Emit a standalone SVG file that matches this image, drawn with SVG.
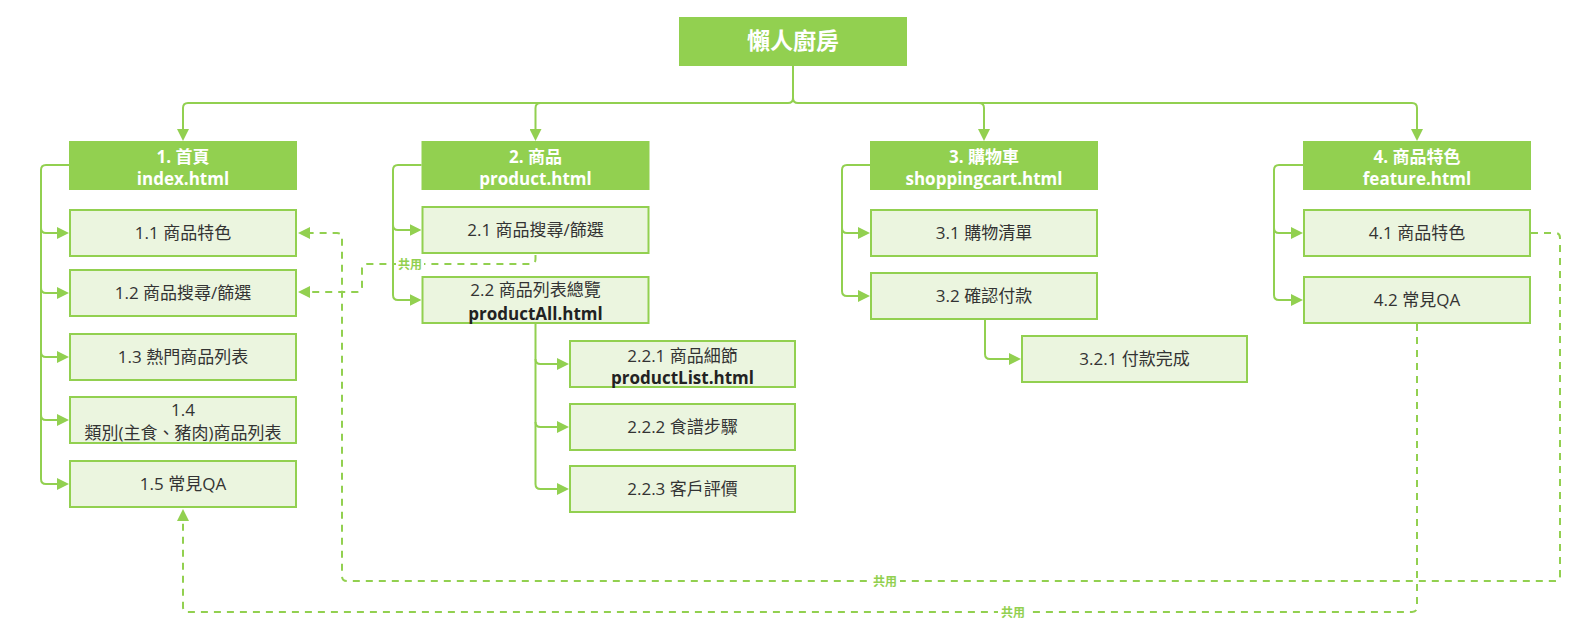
<svg xmlns="http://www.w3.org/2000/svg" width="1586" height="630" viewBox="0 0 1586 630">
<defs>
<style>
.hdr{fill:#92D050;}
.box{fill:#EBF5DF;stroke:#92D050;stroke-width:2;}
.ht{font-family:"Open Sans","Noto Sans CJK TC",sans-serif;font-weight:bold;font-size:17px;fill:#fff;text-anchor:middle;}
.rt{font-family:"Open Sans","Noto Sans CJK TC",sans-serif;font-weight:bold;font-size:23px;fill:#fff;text-anchor:middle;}
.ct{font-family:"Open Sans","Noto Sans CJK TC",sans-serif;font-size:17px;fill:#333;text-anchor:middle;}
.cb{font-family:"Open Sans","Noto Sans CJK TC",sans-serif;font-size:17px;font-weight:bold;fill:#222;text-anchor:middle;}
.ln{fill:none;stroke:#92D050;stroke-width:2;}
.dl{fill:none;stroke:#92D050;stroke-width:2;stroke-dasharray:7 6;}
.lb{font-family:"Open Sans","Noto Sans CJK TC",sans-serif;font-size:12px;font-weight:bold;fill:#92D050;text-anchor:middle;}
</style>
<marker id="ah" viewBox="0 0 12 12" refX="2" refY="6" markerWidth="12" markerHeight="12" markerUnits="userSpaceOnUse" orient="auto">
<path d="M0,0 L12,6 L0,12 z" fill="#92D050"/>
</marker>
</defs>
<rect width="1586" height="630" fill="#fff"/>

<g id="connectors">
<path class="ln" d="M793,66 V98 Q793,103 788,103 H188 Q183,103 183,108 V131" marker-end="url(#ah)"/>
<path class="ln" d="M793,98 Q793,103 798,103 H1412 Q1417,103 1417,108 V131" marker-end="url(#ah)"/>
<path class="ln" d="M540.5,103 Q535.5,103 535.5,108 V131" marker-end="url(#ah)"/>
<path class="ln" d="M979,103 Q984,103 984,108 V131" marker-end="url(#ah)"/>

<path class="ln" d="M69,165 H46 Q41,165 41,170 V228 Q41,233 46,233 H59" marker-end="url(#ah)"/>
<path class="ln" d="M41,228 V288 Q41,293 46,293 H59" marker-end="url(#ah)"/>
<path class="ln" d="M41,288 V352 Q41,357 46,357 H59" marker-end="url(#ah)"/>
<path class="ln" d="M41,352 V415 Q41,420 46,420 H59" marker-end="url(#ah)"/>
<path class="ln" d="M41,415 V479 Q41,484 46,484 H59" marker-end="url(#ah)"/>

<path class="ln" d="M421.5,165 H398 Q393,165 393,170 V225 Q393,230 398,230 H411.5" marker-end="url(#ah)"/>
<path class="ln" d="M393,225 V295 Q393,300 398,300 H411.5" marker-end="url(#ah)"/>

<path class="ln" d="M535.5,324 V359 Q535.5,364 540.5,364 H559" marker-end="url(#ah)"/>
<path class="ln" d="M535.5,359 V422 Q535.5,427 540.5,427 H559" marker-end="url(#ah)"/>
<path class="ln" d="M535.5,422 V484 Q535.5,489 540.5,489 H559" marker-end="url(#ah)"/>

<path class="ln" d="M870,165 H847 Q842,165 842,170 V228 Q842,233 847,233 H860" marker-end="url(#ah)"/>
<path class="ln" d="M842,228 V291 Q842,296 847,296 H860" marker-end="url(#ah)"/>
<path class="ln" d="M985,320 V354 Q985,359 990,359 H1011" marker-end="url(#ah)"/>

<path class="ln" d="M1303,165 H1279 Q1274,165 1274,170 V228 Q1274,233 1279,233 H1293" marker-end="url(#ah)"/>
<path class="ln" d="M1274,228 V295 Q1274,300 1279,300 H1293" marker-end="url(#ah)"/>

<path class="dl" d="M1531,233 H1555 Q1560,233 1560,238 V576 Q1560,581 1555,581 H347 Q342,581 342,576 V238 Q342,233 337,233 H308" marker-end="url(#ah)"/>
<path class="dl" d="M1417,324 V607 Q1417,612 1412,612 H188 Q183,612 183,607 V519" marker-end="url(#ah)"/>
<path class="dl" d="M535.5,255 V259 Q535.5,264 530.5,264 H367 Q362,264 362,269 V287 Q362,292 357,292 H308" marker-end="url(#ah)"/>

<rect x="396" y="257" width="28" height="14" fill="#fff"/>
<text class="lb" x="410" y="268.5">共用</text>
<rect x="870" y="574" width="30" height="14" fill="#fff"/>
<text class="lb" x="885" y="585.5">共用</text>
<rect x="998" y="605" width="30" height="14" fill="#fff"/>
<text class="lb" x="1013" y="616.5">共用</text>
</g>

<g id="root"><rect class="hdr" x="679" y="17" width="228" height="49"/><text class="rt" x="793" y="49">懶人廚房</text></g>

<g id="n1"><rect class="hdr" x="69" y="141" width="228" height="49"/><text class="ht" x="183" y="163">1. 首頁</text><text class="ht" x="183" y="185">index.html</text></g>
<g id="n1-1"><rect class="box" x="70" y="210" width="226" height="46"/><text class="ct" x="183" y="239">1.1 商品特色</text></g>
<g id="n1-2"><rect class="box" x="70" y="270" width="226" height="46"/><text class="ct" x="183" y="299">1.2 商品搜尋/篩選</text></g>
<g id="n1-3"><rect class="box" x="70" y="334" width="226" height="46"/><text class="ct" x="183" y="363">1.3 熱門商品列表</text></g>
<g id="n1-4"><rect class="box" x="70" y="397" width="226" height="46"/><text class="ct" x="183" y="416">1.4</text><text class="ct" x="183" y="439">類別(主食、豬肉)商品列表</text></g>
<g id="n1-5"><rect class="box" x="70" y="461" width="226" height="46"/><text class="ct" x="183" y="490">1.5 常見QA</text></g>

<g id="n2"><rect class="hdr" x="421.5" y="141" width="228" height="49"/><text class="ht" x="535.5" y="163">2. 商品</text><text class="ht" x="535.5" y="185">product.html</text></g>
<g id="n2-1"><rect class="box" x="422.5" y="207" width="226" height="46"/><text class="ct" x="535.5" y="236">2.1 商品搜尋/篩選</text></g>
<g id="n2-2"><rect class="box" x="422.5" y="277" width="226" height="46"/><text class="ct" x="535.5" y="296">2.2 商品列表總覽</text><text class="cb" x="535.5" y="320">productAll.html</text></g>
<g id="n2-2-1"><rect class="box" x="570" y="341" width="225" height="46"/><text class="ct" x="682.5" y="362">2.2.1 商品細節</text><text class="cb" x="682.5" y="384">productList.html</text></g>
<g id="n2-2-2"><rect class="box" x="570" y="404" width="225" height="46"/><text class="ct" x="682.5" y="433">2.2.2 食譜步驟</text></g>
<g id="n2-2-3"><rect class="box" x="570" y="466" width="225" height="46"/><text class="ct" x="682.5" y="495">2.2.3 客戶評價</text></g>

<g id="n3"><rect class="hdr" x="870" y="141" width="228" height="49"/><text class="ht" x="984" y="163">3. 購物車</text><text class="ht" x="984" y="185">shoppingcart.html</text></g>
<g id="n3-1"><rect class="box" x="871" y="210" width="226" height="46"/><text class="ct" x="984" y="239">3.1 購物清單</text></g>
<g id="n3-2"><rect class="box" x="871" y="273" width="226" height="46"/><text class="ct" x="984" y="302">3.2 確認付款</text></g>
<g id="n3-2-1"><rect class="box" x="1022" y="336" width="225" height="46"/><text class="ct" x="1134.5" y="365">3.2.1 付款完成</text></g>

<g id="n4"><rect class="hdr" x="1303" y="141" width="228" height="49"/><text class="ht" x="1417" y="163">4. 商品特色</text><text class="ht" x="1417" y="185">feature.html</text></g>
<g id="n4-1"><rect class="box" x="1304" y="210" width="226" height="46"/><text class="ct" x="1417" y="239">4.1 商品特色</text></g>
<g id="n4-2"><rect class="box" x="1304" y="277" width="226" height="46"/><text class="ct" x="1417" y="306">4.2 常見QA</text></g>
</svg>
